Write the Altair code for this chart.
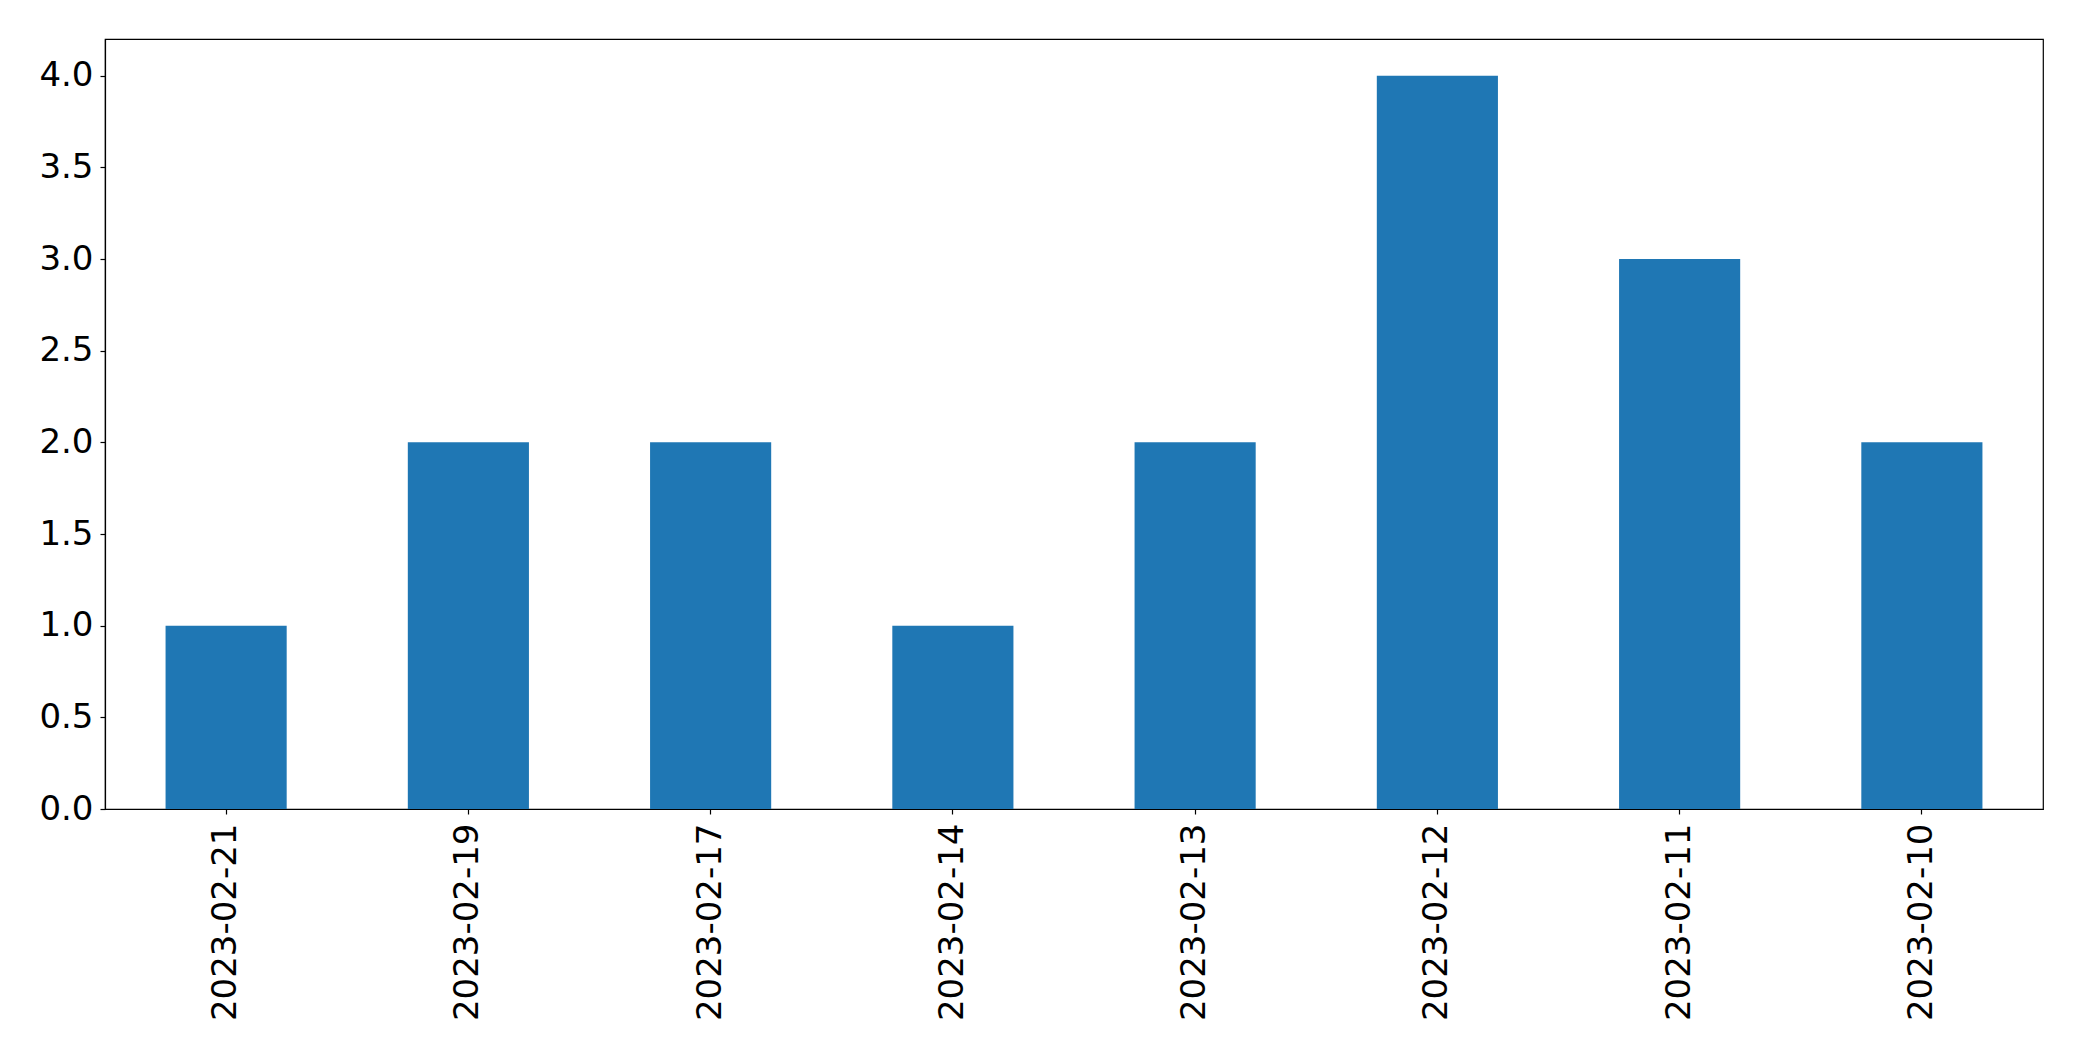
import altair as alt
import pandas as pd

dates = ["2023-02-21", "2023-02-19", "2023-02-17", "2023-02-14",
         "2023-02-13", "2023-02-12", "2023-02-11", "2023-02-10"]
counts = [1, 2, 2, 1, 2, 4, 3, 2]
y_ticks = [0.0, 0.5, 1.0, 1.5, 2.0, 2.5, 3.0, 3.5, 4.0]

df = pd.DataFrame({"date": dates, "count": counts})

chart = alt.Chart(df).mark_bar(color="#1f77b4").encode(
    x=alt.X("date:N", sort=None, title=None,
            scale=alt.Scale(paddingInner=0.5, paddingOuter=0.25),
            axis=alt.Axis(labelAngle=270, labelFontSize=34, labelPadding=9,
                          labelLimit=1000,
                          tickSize=5, labelColor="black", tickColor="black",
                          domainColor="black", labelFont="DejaVu Sans")),
    y=alt.Y("count:Q", title=None,
            scale=alt.Scale(domain=[0, 4.2], nice=False, zero=True),
            axis=alt.Axis(values=y_ticks, format=".1f", labelFontSize=34,
                          labelPadding=7, tickSize=5, labelColor="black",
                          tickColor="black", domainColor="black",
                          labelFont="DejaVu Sans", grid=False)),
).properties(
    width=1938, height=770,
    autosize=alt.AutoSizeParams(type="none"),
    padding={"left": 97, "top": 31, "right": 30, "bottom": 240},
).configure_view(
    stroke="black", strokeWidth=1.2
).configure_axis(
    grid=False, domainWidth=1.2, tickWidth=1.2
)

chart.save("out.html", embed_options={"renderer": "svg", "actions": False})
